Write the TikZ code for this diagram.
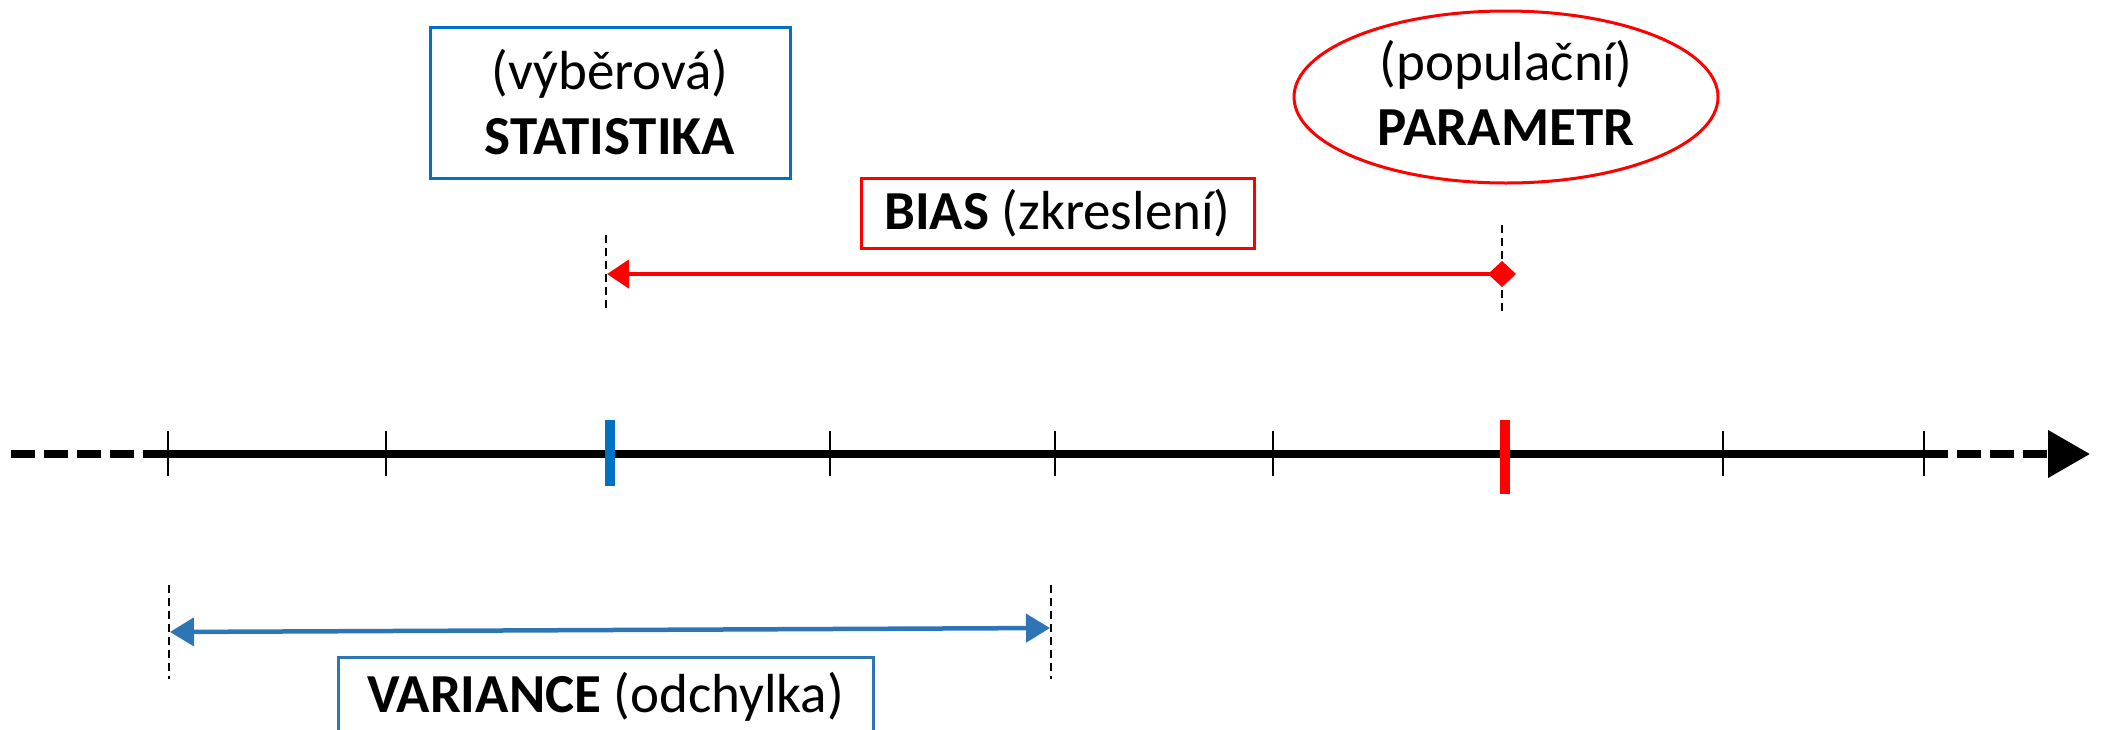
\documentclass[tikz,border=0pt]{standalone}
\usepackage{fontspec}
\setmainfont{Carlito}
\usetikzlibrary{arrows.meta,shapes.geometric}
\definecolor{sblue}{HTML}{0070C0}
\definecolor{vblue}{HTML}{2E75B6}
\definecolor{pred}{HTML}{FF0000}
\begin{document}
\begin{tikzpicture}[x=1pt,y=-1pt,
  lbl/.style={font=\fontsize{55}{65}\selectfont, align=center, inner sep=0pt},
  axisline/.style={line width=7.5pt, black},
  axdash/.style={axisline, dash pattern=on 24pt off 9pt},
  tickmark/.style={line width=1.6pt, black},
  guide/.style={line width=1.4pt, black, dash pattern=on 8pt off 5pt},
  bigtick/.style={line width=10pt},
]
\useasboundingbox (0,0) rectangle (2103,729);

% axis
\coordinate (L) at (11,454);
\coordinate (A0) at (168,454);
\coordinate (A1) at (1924,454);
\coordinate (R) at (2090,454);
\draw[axdash] (L) -- (A0);
\draw[axisline] (A0) -- (A1);
\draw[axdash, -{Triangle[length=42pt,width=46pt]}] (A1) -- (R);

% ticks
\foreach \x in {168,386,830,1055,1273,1723,1924}
  \draw[tickmark] (\x,431) -- (\x,476);
\draw[bigtick, sblue] (610,420) -- (610,486);
\draw[bigtick, pred] (1505,420) -- (1505,494);

% STATISTIKA
\node[lbl, draw=sblue, line width=3pt, minimum width=360pt, minimum height=151pt]
  (stat) at (610,102.5) {(výběrová)\\\textbf{STATISTIKA}};

% PARAMETR
\node[lbl, ellipse, draw=pred, line width=3pt, minimum width=424pt, minimum height=172pt]
  (param) at (1506,97) {};
\node[lbl] (paramtxt) at (1506,93) {(populační)\\\textbf{PARAMETR}};

% BIAS
\node[lbl, draw=pred, line width=3pt, minimum width=393pt, minimum height=70pt]
  (bias) at (1057.5,213) {\textbf{BIAS} (zkreslení)};
\coordinate (biasL) at (607,274);
\coordinate (biasR) at (1502,274);
\draw[guide] (606,235) -- (606,311);
\draw[guide] (1502,225) -- (1502,311);
\draw[pred, line width=4.5pt, {Triangle[length=22pt,width=28pt]}-{Turned Square[length=28pt,width=26pt]}]
  (biasL) -- ([xshift=14pt]biasR);

% VARIANCE
\coordinate (varL) at (170,632);
\coordinate (varR) at (1050,628);
\draw[guide] (169,585) -- (169,679);
\draw[guide] (1051,585) -- (1051,679);
\draw[vblue, line width=4.5pt, {Triangle[length=24pt,width=28pt]}-{Triangle[length=24pt,width=28pt]}]
  (varL) -- (varR);
\node[draw=vblue, line width=3pt, minimum width=535pt, minimum height=90pt, inner sep=0pt]
  (varbox) at (605.5,702) {};
\node[lbl] (vartxt) at (605.5,697) {\textbf{VARIANCE} (odchylka)};
\end{tikzpicture}
\end{document}
